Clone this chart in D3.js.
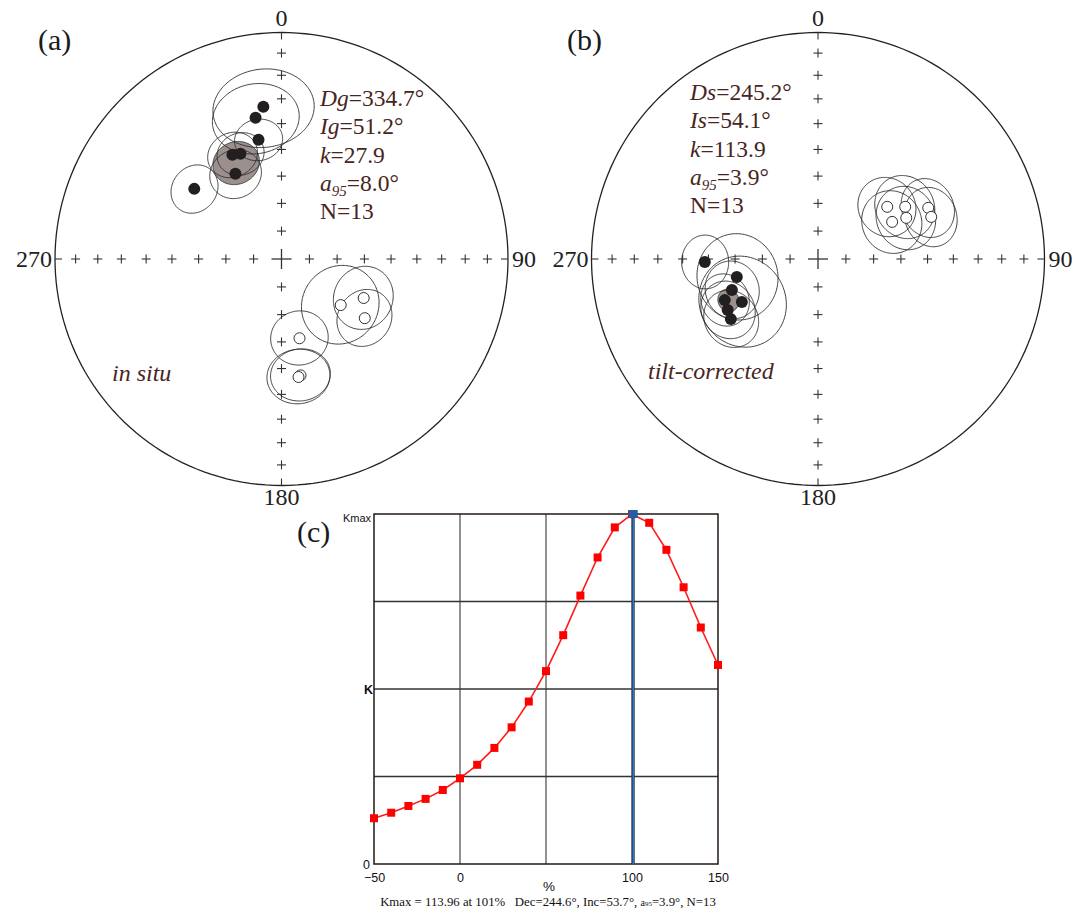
<!DOCTYPE html>
<html><head><meta charset="utf-8">
<script src="https://cdn.jsdelivr.net/npm/d3@7"></script>
<style>body{margin:0;background:#fff;} svg{display:block;} .pre{white-space:pre;}</style>
</head><body>
<svg id="chart" width="1089" height="913"></svg>
<script>
// ---------- DATA ----------
// (a) in situ site means: declination, inclination, alpha95
const insituDec = [353.2, 349.6, 349.1, 334.8, 338.7, 331.6, 308.8, 127.9, 115.4, 125.4, 167.2, 170.7, 171.8];
const insituInc = [32.8, 36.7, 45.4, 47.8, 48.7, 54.8, 49.1, -62.9, -57.0, -52.8, -60.6, -46.8, -46.3];
const insituA95 = [16, 14, 8, 8.5, 8, 9, 8.5, 14, 11, 10, 10, 10, 10.5];
const insituMean = [334.7, 51.2, 8.0];
const insituStats = ["334.7°", "51.2°", "27.9", "8.0°", "13"];

// (b) tilt-corrected site means
const tiltDec = [268.5, 257.5, 250.2, 240.5, 240.5, 235.4, 246.2, 53.0, 59.1, 63.4, 65.0, 65.1, 69.6];
const tiltInc = [48.6, 59.9, 56.8, 58.3, 52.2, 51.4, 52.9, -58.6, -53.0, -60.0, -54.6, -45.4, -45.7];
const tiltA95 = [9, 15, 10, 16, 10, 10, 9, 10.5, 11, 11, 11, 10, 10];
const tiltMean = [245.2, 54.1, 3.9];
const tiltStats = ["245.2°", "54.1°", "113.9", "3.9°", "13"];

// (c) fold test: % unfolding vs K
const unfolding = [-50, -40, -30, -20, -10, 0, 10, 20, 30, 40, 50, 60, 70, 80, 90, 100, 110, 120, 130, 140, 150];
const kValues = [14.9, 16.7, 18.9, 21.2, 24.1, 27.9, 32.3, 37.8, 44.5, 52.9, 62.8, 74.5, 87.4, 99.8, 109.6, 113.9, 111.1, 102.3, 90.1, 77.0, 64.8];
const kMax = 113.96, kMaxAt = 101;
const xTickValues = [-50, 0, 100, 150];
const gridX = [0, 50, 100];
const gridYFrac = [0.25, 0.5, 0.75];

// ---------- DRAW ----------
const svg = d3.select("#chart");
const SERIF = "'Liberation Serif','Times New Roman',serif";
const SANS = "'Liberation Sans',Arial,sans-serif";
const TXT = "#472522";
const R = 226.5;

function stereonet(cx, cy, decs, incs, a95s, mean, statLabels, stats, tag, tagPos, noteText, notePos, statPos) {
  const g = svg.append("g");
  const proj = d3.geoAzimuthalEqualArea().rotate([0, 90]).scale(R / Math.SQRT2).translate([cx, cy]);
  const path = d3.geoPath(proj);
  // primitive circle
  g.append("path").attr("d", path(d3.geoCircle().center([0, -90]).radius(90)()))
    .attr("fill", "none").attr("stroke", "#222").attr("stroke-width", 1.3);
  // ticks
  const tk = g.append("g").attr("stroke", "#333").attr("stroke-width", 1.1);
  [0, 90, 180, 270].forEach(dec => {
    d3.range(10, 90, 10).forEach(inc => {
      const [px, py] = proj([dec, -inc]);
      tk.append("line").attr("x1", px - 4.5).attr("x2", px + 4.5).attr("y1", py).attr("y2", py);
      tk.append("line").attr("x1", px).attr("x2", px).attr("y1", py - 4.5).attr("y2", py + 4.5);
    });
    const [ex, ey] = proj([dec, 0]);
    const ux = (cx - ex) / R, uy = (cy - ey) / R;
    tk.append("line").attr("x1", ex).attr("y1", ey).attr("x2", ex + ux * 7).attr("y2", ey + uy * 7);
  });
  tk.append("line").attr("x1", cx - 10).attr("x2", cx + 10).attr("y1", cy).attr("y2", cy).attr("stroke-width", 1.3);
  tk.append("line").attr("x1", cx).attr("x2", cx).attr("y1", cy - 10).attr("y2", cy + 10).attr("stroke-width", 1.3);
  // axis labels
  const lab = g.append("g").attr("font-family", SERIF).attr("font-size", 24).attr("fill", "#222");
  lab.append("text").attr("x", cx).attr("y", cy - R - 7).attr("text-anchor", "middle").text("0");
  lab.append("text").attr("x", cx).attr("y", cy + R + 19).attr("text-anchor", "middle").text("180");
  lab.append("text").attr("x", cx - R - 3).attr("y", cy + 8).attr("text-anchor", "end").text("270");
  lab.append("text").attr("x", cx + R + 4).attr("y", cy + 8).attr("text-anchor", "start").text("90");
  // mean alpha95 (shaded)
  g.append("path").attr("d", path(d3.geoCircle().center([mean[0], -mean[1]]).radius(mean[2])()))
    .attr("fill", "#9c908e").attr("stroke", "#333").attr("stroke-width", 0.9);
  // site alpha95 circles
  decs.forEach((d, i) => {
    g.append("path").attr("d", path(d3.geoCircle().center([d, -Math.abs(incs[i])]).radius(a95s[i])()))
      .attr("fill", "none").attr("stroke", "#2b2b2b").attr("stroke-width", 0.9);
  });
  // site directions
  decs.forEach((d, i) => {
    const [px, py] = proj([d, -Math.abs(incs[i])]);
    if (incs[i] >= 0) {
      g.append("circle").attr("cx", px).attr("cy", py).attr("r", 6).attr("fill", "#231f20");
    } else {
      g.append("circle").attr("cx", px).attr("cy", py).attr("r", 5.5).attr("fill", "#fff")
        .attr("stroke", "#333").attr("stroke-width", 1);
    }
  });
  // tag
  g.append("text").attr("x", tagPos[0]).attr("y", tagPos[1]).attr("font-family", SERIF)
    .attr("font-size", 30).attr("fill", "#1a1a1a").text(tag);
  // note
  g.append("text").attr("x", notePos[0]).attr("y", notePos[1]).attr("font-family", SERIF)
    .attr("font-style", "italic").attr("font-size", 24).attr("fill", TXT).text(noteText);
  // stats
  const st = g.append("g").attr("font-family", SERIF).attr("font-size", 23.5).attr("fill", TXT);
  statLabels.forEach((lbl, i) => {
    const t = st.append("text").attr("x", statPos[0]).attr("y", statPos[1] + i * 28.3);
    if (lbl === "a95") {
      t.append("tspan").attr("font-style", "italic").text("a");
      t.append("tspan").attr("font-style", "italic").attr("font-size", 15).attr("dy", 5).text("95");
      t.append("tspan").attr("dy", -5).text("=" + stats[i]);
    } else if (lbl === "N") {
      t.text("N=" + stats[i]);
    } else {
      t.append("tspan").attr("font-style", "italic").text(lbl);
      t.append("tspan").text("=" + stats[i]);
    }
  });
}

stereonet(281.5, 259, insituDec, insituInc, insituA95, insituMean,
  ["Dg", "Ig", "k", "a95", "N"], insituStats, "(a)", [38, 50], "in situ", [112, 381], [320, 106]);
stereonet(818, 259, tiltDec, tiltInc, tiltA95, tiltMean,
  ["Ds", "Is", "k", "a95", "N"], tiltStats, "(b)", [567, 50], "tilt-corrected", [648, 379], [690, 100]);

// ---------- (c) fold test ----------
const x = d3.scaleLinear().domain([-50, 150]).range([374, 718]);
const y = d3.scaleLinear().domain([0, kMax]).range([864, 514]);
const c = svg.append("g");
c.append("text").attr("x", 297).attr("y", 542).attr("font-family", SERIF).attr("font-size", 30)
  .attr("fill", "#1a1a1a").text("(c)");
// grid
gridX.forEach(v => c.append("line").attr("x1", x(v)).attr("x2", x(v)).attr("y1", y(0)).attr("y2", y(kMax))
  .attr("stroke", "#555").attr("stroke-width", 1.3));
gridYFrac.forEach(f => c.append("line").attr("x1", x(-50)).attr("x2", x(150)).attr("y1", y(kMax * f)).attr("y2", y(kMax * f))
  .attr("stroke", "#333").attr("stroke-width", 1.3));
// frame
c.append("rect").attr("x", x(-50)).attr("y", y(kMax)).attr("width", x(150) - x(-50)).attr("height", y(0) - y(kMax))
  .attr("fill", "none").attr("stroke", "#231815").attr("stroke-width", 1.5);
// max line
c.append("line").attr("x1", x(kMaxAt) - 0.5).attr("x2", x(kMaxAt) - 0.5).attr("y1", y(0)).attr("y2", y(kMax))
  .attr("stroke", "#1d3a5c").attr("stroke-width", 3);
c.append("line").attr("x1", x(kMaxAt) - 0.5).attr("x2", x(kMaxAt) - 0.5).attr("y1", y(0)).attr("y2", y(kMax))
  .attr("stroke", "#3b86d6").attr("stroke-width", 1.1);
// curve
const line = d3.line().x((d, i) => x(unfolding[i])).y(d => y(d));
c.append("path").attr("d", line(kValues)).attr("fill", "none").attr("stroke", "#ff1a1a").attr("stroke-width", 1.6);
c.selectAll("rect.pt").data(kValues).join("rect").attr("class", "pt")
  .attr("x", (d, i) => x(unfolding[i]) - 4).attr("y", d => y(d) - 4).attr("width", 8).attr("height", 8)
  .attr("fill", "#ff0000");
c.append("rect").attr("x", x(kMaxAt) - 5).attr("y", y(kMax) - 4).attr("width", 9).attr("height", 8).attr("fill", "#1f5fa8");
// axes
const xa = c.append("g").attr("transform", `translate(0,${y(0)})`)
  .call(d3.axisBottom(x).tickValues(xTickValues).tickSize(0).tickPadding(9).tickFormat(d3.format("d")));
xa.select(".domain").remove();
xa.selectAll("text").attr("font-family", SANS).attr("font-size", 12.5).attr("fill", "#111");
const ya = c.append("g").attr("transform", `translate(${x(-50)},0)`)
  .call(d3.axisLeft(y).tickValues([0]).tickSize(0).tickPadding(4));
ya.select(".domain").remove();
ya.selectAll("text").attr("font-family", SANS).attr("font-size", 12.5).attr("fill", "#111");
c.append("text").attr("x", 371).attr("y", y(kMax) + 8).attr("text-anchor", "end").attr("font-family", SANS)
  .attr("font-size", 11).attr("fill", "#111").text("Kmax");
c.append("text").attr("x", 373).attr("y", y(kMax / 2) + 5).attr("text-anchor", "end").attr("font-family", SANS)
  .attr("font-size", 12.5).attr("font-weight", "bold").attr("fill", "#111").text("K");
c.append("text").attr("x", x(50) + 3).attr("y", 891).attr("text-anchor", "middle").attr("font-family", SANS)
  .attr("font-size", 13.5).attr("fill", "#111").text("%");
const ft = c.append("text").attr("class", "pre").attr("x", 548).attr("y", 906).attr("text-anchor", "middle").attr("font-family", SERIF)
  .attr("font-size", 12.8).attr("fill", "#111");
ft.append("tspan").text(`Kmax = ${kMax} at ${kMaxAt}%   Dec=244.6°, Inc=53.7°, `);
ft.append("tspan").attr("font-size", 10).text("a");
ft.append("tspan").attr("font-size", 7).text("95");
ft.append("tspan").text("=3.9°, N=13");
</script>
</body></html>
